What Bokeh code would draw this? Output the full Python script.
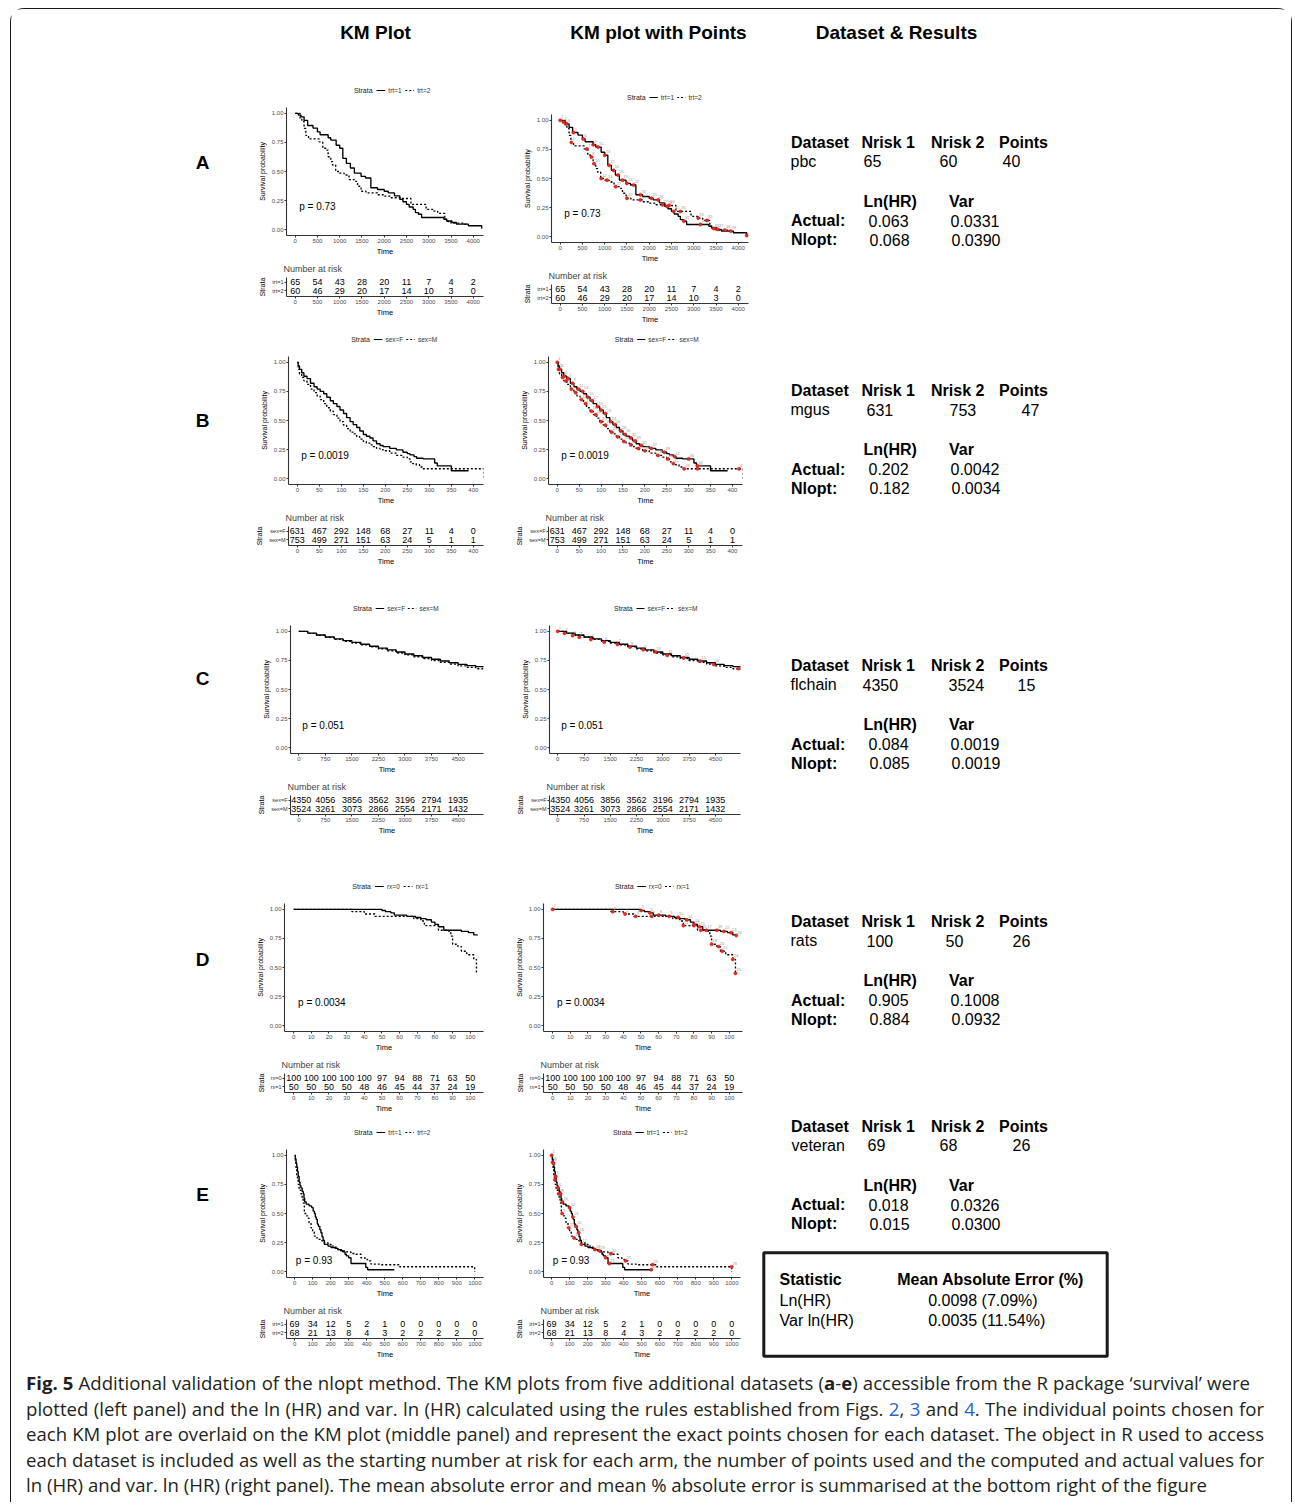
from bokeh.plotting import figure
from bokeh.layouts import column, row
from bokeh.models import Range1d, FixedTicker, PrintfTickFormatter, Spacer, Div
from bokeh.core.properties import value
from bokeh.embed import file_html
from bokeh.resources import INLINE

FONT = "Liberation Sans"

# ======================= DATA =======================
# ---- A: pbc ----
A_strata = ["trt=1", "trt=2"]
A_pval = "0.73"
A_risk_times = [0, 500, 1000, 1500, 2000, 2500, 3000, 3500, 4000]
A_risk_1 = [65, 54, 43, 28, 20, 11, 7, 4, 2]
A_risk_2 = [60, 46, 29, 20, 17, 14, 10, 3, 0]
A1_t = [0, 70, 130, 200, 280, 400, 500, 560, 740, 800, 920, 1000, 1070, 1150, 1240, 1330, 1480, 1580, 1700, 1850,
        2000, 2090, 2230, 2350, 2420, 2500, 2560, 2650, 2700, 2770, 2840, 3340, 3400, 3520, 3620, 3890, 4190]
A1_s = [1.0, 0.985, 0.97, 0.94, 0.895, 0.873, 0.84, 0.816, 0.79, 0.77, 0.726, 0.70, 0.613, 0.57, 0.53, 0.486, 0.458, 0.444, 0.36, 0.345,
        0.33, 0.316, 0.29, 0.26, 0.24, 0.217, 0.195, 0.175, 0.147, 0.133, 0.105, 0.09, 0.075, 0.062, 0.048, 0.034, 0.01]
A2_t = [0, 110, 150, 200, 240, 300, 540, 620, 690, 740, 800, 840, 910, 990, 1100, 1210, 1330, 1400, 1480, 1590,
        1850, 2000, 2150, 2380, 2600, 2940, 3090, 3200, 3360, 3430, 3500, 3800, 3850]
A2_s = [1.0, 0.96, 0.93, 0.87, 0.81, 0.78, 0.754, 0.70, 0.684, 0.627, 0.585, 0.556, 0.50, 0.486, 0.47, 0.43, 0.415, 0.373, 0.33, 0.316,
        0.30, 0.288, 0.274, 0.268, 0.217, 0.175, 0.16, 0.14, 0.09, 0.07, 0.056, 0.048, 0.048]
A_pts1_t = [0, 74, 148, 296, 518, 740, 852, 1000, 1100, 1200, 1300, 1400, 1500, 1650, 1800, 2050, 2200, 2400, 2550, 2780, 3150, 3540, 4190]
A_pts1_s = [1.0, 0.985, 0.97, 0.895, 0.84, 0.79, 0.77, 0.70, 0.613, 0.57, 0.53, 0.486, 0.458, 0.444, 0.36, 0.33, 0.316, 0.26, 0.217, 0.133, 0.105, 0.062, 0.01]
A_pts2_t = [250, 600, 700, 760, 920, 1050, 1250, 1500, 1800, 2300, 2450, 2700, 3100, 3300, 3450, 3700, 3830]
A_pts2_s = [0.81, 0.754, 0.684, 0.627, 0.50, 0.486, 0.43, 0.33, 0.316, 0.274, 0.268, 0.217, 0.16, 0.14, 0.07, 0.056, 0.048]

# ---- B: mgus ----
B_strata = ["sex=F", "sex=M"]
B_pval = "0.0019"
B_risk_times = [0, 50, 100, 150, 200, 250, 300, 350, 400]
B_risk_1 = [631, 467, 292, 148, 68, 27, 11, 4, 0]
B_risk_2 = [753, 499, 271, 151, 63, 24, 5, 1, 1]
B1_t = [0, 2, 5, 10, 15, 22, 30, 38, 45, 52, 60, 67, 75, 82, 90, 97, 105, 112, 120, 127,
        135, 142, 150, 157, 165, 172, 180, 188, 195, 210, 225, 240, 250, 256, 265, 271, 286, 312, 318, 350, 389]
B1_s = [1.0, 0.97, 0.94, 0.91, 0.88, 0.86, 0.82, 0.79, 0.77, 0.75, 0.73, 0.70, 0.67, 0.645, 0.62, 0.59, 0.56, 0.525, 0.49, 0.465,
        0.44, 0.41, 0.38, 0.365, 0.35, 0.325, 0.30, 0.285, 0.276, 0.26, 0.247, 0.227, 0.215, 0.205, 0.19, 0.176, 0.17, 0.135, 0.11, 0.068, 0.068]
B2_t = [0, 2, 5, 10, 15, 22, 30, 38, 45, 52, 60, 67, 75, 82, 90, 97, 105, 112, 120, 127,
        135, 142, 150, 157, 165, 172, 180, 188, 195, 210, 225, 240, 250, 256, 262, 270, 278, 285, 424, 424]
B2_s = [1.0, 0.94, 0.90, 0.87, 0.84, 0.81, 0.77, 0.74, 0.71, 0.68, 0.645, 0.61, 0.58, 0.55, 0.52, 0.49, 0.46, 0.43, 0.40, 0.385,
        0.36, 0.34, 0.32, 0.305, 0.29, 0.275, 0.26, 0.25, 0.24, 0.22, 0.20, 0.185, 0.17, 0.145, 0.13, 0.12, 0.10, 0.085, 0.085, 0.0]
B_pts1_t = [0, 6, 16, 25, 35, 48, 58, 70, 80, 92, 100, 110, 122, 132, 145, 155, 168, 178, 192, 215, 245, 268, 300, 320]
B_pts1_s = [1.0, 0.94, 0.88, 0.86, 0.82, 0.77, 0.75, 0.70, 0.67, 0.62, 0.59, 0.56, 0.49, 0.465, 0.41, 0.38, 0.35, 0.325, 0.285, 0.26, 0.227, 0.19, 0.17, 0.11]
B_pts2_t = [3, 12, 20, 32, 42, 55, 65, 78, 88, 100, 110, 124, 138, 152, 168, 185, 200, 230, 252, 265, 290, 320, 415]
B_pts2_s = [0.94, 0.87, 0.84, 0.77, 0.74, 0.68, 0.645, 0.58, 0.55, 0.49, 0.46, 0.40, 0.36, 0.32, 0.29, 0.26, 0.24, 0.20, 0.17, 0.13, 0.085, 0.085, 0.085]

# ---- C: flchain ----
C_strata = ["sex=F", "sex=M"]
C_pval = "0.051"
C_risk_times = [0, 750, 1500, 2250, 3000, 3750, 4500]
C_risk_1 = [4350, 4056, 3856, 3562, 3196, 2794, 1935]
C_risk_2 = [3524, 3261, 3073, 2866, 2554, 2171, 1432]
C1_t = [0, 250, 500, 750, 1000, 1250, 1500, 1750, 2000, 2250, 2500, 2750, 3000, 3250, 3500, 3750, 4000, 4250, 4500, 4750, 5000, 5215]
C1_s = [1.0, 0.984, 0.968, 0.951, 0.935, 0.92, 0.905, 0.889, 0.872, 0.856, 0.84, 0.822, 0.805, 0.79, 0.775, 0.76, 0.745, 0.73, 0.716, 0.705, 0.696, 0.69]
C2_t = [0, 250, 500, 750, 1000, 1250, 1500, 1750, 2000, 2250, 2500, 2750, 3000, 3250, 3500, 3750, 4000, 4250, 4500, 4750, 5000, 5215]
C2_s = [1.0, 0.982, 0.965, 0.948, 0.931, 0.915, 0.899, 0.883, 0.866, 0.849, 0.832, 0.814, 0.797, 0.781, 0.765, 0.749, 0.733, 0.718, 0.703, 0.69, 0.678, 0.67]
C_pts1_t = [0, 190, 426, 616, 947, 1326, 1705, 2064, 2443, 2793, 3125, 3598, 4072, 4451, 5161]
C_pts1_s = [1.0, 0.983, 0.963, 0.949, 0.93, 0.907, 0.887, 0.865, 0.842, 0.823, 0.794, 0.772, 0.744, 0.716, 0.68]
C_pts2_t = []
C_pts2_s = []

# ---- D: rats ----
D_strata = ["rx=0", "rx=1"]
D_pval = "0.0034"
D_risk_times = [0, 10, 20, 30, 40, 50, 60, 70, 80, 90, 100]
D_risk_1 = [100, 100, 100, 100, 100, 97, 94, 88, 71, 63, 50]
D_risk_2 = [50, 50, 50, 50, 48, 46, 45, 44, 37, 24, 19]
D1_t = [0, 50, 52, 55, 57, 64, 69, 72, 75, 78, 80, 82, 85, 95, 99, 102, 104]
D1_s = [1.0, 0.99, 0.98, 0.97, 0.95, 0.94, 0.93, 0.92, 0.91, 0.89, 0.87, 0.85, 0.82, 0.81, 0.80, 0.78, 0.775]
D2_t = [0, 33, 40, 46, 68, 72, 74, 82, 88, 89, 90, 93, 95, 98, 102, 103.5, 104]
D2_s = [1.0, 0.98, 0.96, 0.94, 0.92, 0.90, 0.86, 0.82, 0.80, 0.77, 0.70, 0.68, 0.64, 0.61, 0.57, 0.45, 0.45]
D_pts1_t = [0, 50, 55, 60, 66, 71, 76, 80, 83, 87, 93, 97, 101, 104]
D_pts1_s = [1.0, 0.99, 0.97, 0.95, 0.94, 0.93, 0.91, 0.87, 0.85, 0.82, 0.82, 0.81, 0.80, 0.775]
D_pts2_t = [34, 41, 47, 56, 74, 80, 84, 90, 94, 96, 102, 103.5]
D_pts2_s = [0.98, 0.96, 0.94, 0.94, 0.86, 0.86, 0.82, 0.70, 0.68, 0.64, 0.57, 0.45]

# ---- E: veteran ----
E_strata = ["trt=1", "trt=2"]
E_pval = "0.93"
E_risk_times = [0, 100, 200, 300, 400, 500, 600, 700, 800, 900, 1000]
E_risk_1 = [69, 34, 12, 5, 2, 1, 0, 0, 0, 0, 0]
E_risk_2 = [68, 21, 13, 8, 4, 3, 2, 2, 2, 2, 0]
E1_t = [0, 4, 8, 12, 16, 20, 25, 30, 35, 42, 48, 52, 56, 64, 80, 95, 103, 110, 115, 120,
        126, 132, 140, 146, 152, 158, 165, 185, 202, 225, 240, 255, 267, 280, 287, 300, 313, 395, 405, 553]
E1_s = [1.0, 0.97, 0.93, 0.90, 0.86, 0.82, 0.77, 0.74, 0.72, 0.69, 0.67, 0.63, 0.60, 0.58, 0.565, 0.55, 0.52, 0.50, 0.47, 0.45,
        0.41, 0.39, 0.36, 0.335, 0.30, 0.27, 0.235, 0.22, 0.207, 0.20, 0.19, 0.18, 0.17, 0.15, 0.136, 0.12, 0.07, 0.037, 0.017, 0.017]
E2_t = [0, 4, 8, 12, 16, 20, 25, 35, 42, 48, 54, 62, 72, 80, 91, 100, 109, 120, 128, 150,
        165, 185, 202, 220, 239, 260, 276, 313, 340, 368, 390, 405, 424, 470, 582, 999, 999]
E2_s = [1.0, 0.94, 0.89, 0.83, 0.79, 0.75, 0.70, 0.67, 0.62, 0.59, 0.50, 0.48, 0.46, 0.42, 0.377, 0.34, 0.306, 0.29, 0.278, 0.265,
        0.25, 0.235, 0.22, 0.21, 0.19, 0.18, 0.17, 0.156, 0.15, 0.12, 0.105, 0.093, 0.065, 0.06, 0.042, 0.042, 0.0]
E_pts1_t = [0, 10, 22, 36, 50, 60, 100, 118, 135, 150, 165, 240, 300, 320, 553]
E_pts1_s = [1.0, 0.93, 0.82, 0.72, 0.67, 0.60, 0.55, 0.47, 0.39, 0.335, 0.235, 0.19, 0.12, 0.07, 0.017]
E_pts2_t = [6, 18, 40, 58, 95, 125, 265, 330, 410, 560, 999]
E_pts2_s = [0.94, 0.79, 0.67, 0.50, 0.377, 0.29, 0.18, 0.156, 0.093, 0.06, 0.042]

# ---- right panel values ----
DATASETS = ["pbc", "mgus", "flchain", "rats", "veteran"]
NRISK1 = [65, 631, 4350, 100, 69]
NRISK2 = [60, 753, 3524, 50, 68]
NPOINTS = [40, 47, 15, 26, 26]
ACT_LNHR = ["0.063", "0.202", "0.084", "0.905", "0.018"]
ACT_VAR = ["0.0331", "0.0042", "0.0019", "0.1008", "0.0326"]
NL_LNHR = ["0.068", "0.182", "0.085", "0.884", "0.015"]
NL_VAR = ["0.0390", "0.0034", "0.0019", "0.0932", "0.0300"]
STAT_NAMES = ["Ln(HR)", "Var ln(HR)"]
STAT_MAE = ["0.0098 (7.09%)", "0.0035 (11.54%)"]
PANEL_LETTERS = ["A", "B", "C", "D", "E"]
COL_TITLES = ["KM Plot", "KM plot with Points", "Dataset & Results"]

# ======================= LAYOUT CONSTANTS =======================
X0 = 11          # page x of container inner left
Y0 = 10          # page y of container inner top
ROW_TOP = [80, 328, 597, 875, 1120]
ROW_H = [248, 269, 278, 245, 248]
Y1_L = [114.3, 363.3, 632.3, 910.3, 1155.7]
Y1_M = [120.7, 363.3, 632.3, 910.3, 1155.7]
FL_L = [286, 288, 290, 284, 286]
FR_L = [483, 483, 483, 483, 483]
FL_M = [551, 548, 549, 543, 543]
FR_M = [748, 742, 740, 742, 740]
LEFT_FIG_X, LEFT_W = 250, 250
MID_FIG_X, MID_W = 500, 260
TEXT_FIG_X = 760
TEXT_W = 1291 - TEXT_FIG_X
LETTER_W = LEFT_FIG_X - X0
XR = {"A": (-195, 4230), "B": (-20, 423), "C": (-235, 5218), "D": (-5.2, 107.5), "E": (-45, 1048)}
PPOS = {"A": (90, 0.2), "B": (9, 0.196), "C": (100, 0.194), "D": (2.5, 0.198), "E": (7, 0.1)}
LETTER_Y = [83, 93, 82, 85, 75]
RT_Y = [62.5, 63, 69, 47, 6.7]
VX = [(790, 863, 939, 1002), (790, 866, 949, 1021), (790, 862, 948, 1017), (790, 866, 945, 1012), (791, 867, 939, 1012)]

G = globals()
DATA = {}
for k in "ABCDE":
    DATA[k] = dict(
        strata=G[k + "_strata"], pval=G[k + "_pval"], times=G[k + "_risk_times"],
        r1=G[k + "_risk_1"], r2=G[k + "_risk_2"],
        t1=G[k + "1_t"], s1=G[k + "1_s"], t2=G[k + "2_t"], s2=G[k + "2_s"],
        p1t=G[k + "_pts1_t"], p1s=G[k + "_pts1_s"], p2t=G[k + "_pts2_t"], p2s=G[k + "_pts2_s"],
        xr=Range1d(*XR[k]), xr_vals=XR[k],
    )

CW = {'S': 0.667, 't': 0.278, 'r': 0.333, 'a': 0.556, '=': 0.584, 's': 0.5, 'e': 0.556, 'x': 0.5,
      'F': 0.611, 'M': 0.833, '0': 0.556, '1': 0.556, '2': 0.556}


def tw(s, size):
    return sum(CW.get(c, 0.556) for c in s) * size * 1.1


def blank(w, h, yflip=True):
    p = figure(width=w, height=h, x_range=Range1d(0, w),
               y_range=Range1d(h, 0) if yflip else Range1d(0, h),
               x_axis_type=None, y_axis_type=None, output_backend="svg",
               toolbar_location=None, min_border=0)
    p.outline_line_color = None
    p.grid.visible = False
    return p


def put_text(p, xs, ys, texts, size, bold=False, align="left", color="black", font=FONT):
    p.text(x=xs, y=ys, text=texts, text_font=value(font), text_font_size=size,
           text_font_style="bold" if bold else "normal", text_align=align,
           text_baseline="middle", text_color=color)


def style_axes(p, xlabel, ylabel):
    for ax in (p.xaxis[0], p.yaxis[0]):
        ax.axis_line_color = "#333333"
        ax.axis_line_width = 1.1
        ax.major_tick_line_color = "#333333"
        ax.major_tick_out = 2
        ax.major_tick_in = 0
        ax.minor_tick_line_color = None
        ax.major_label_text_font = FONT
        ax.major_label_text_font_size = "6px"
        ax.major_label_text_color = "#4d4d4d"
        ax.major_label_standoff = 1
        ax.axis_label_text_font = FONT
        ax.axis_label_text_font_size = "7.5px"
        ax.axis_label_text_font_style = "normal"
        ax.axis_label_text_color = "black"
        ax.axis_label_standoff = 1
    p.xaxis[0].axis_label = xlabel
    p.yaxis[0].axis_label = ylabel
    p.yaxis[0].axis_label_standoff = 3
    p.grid.visible = False
    p.outline_line_color = None


def km_block(key, fig_x, W, FL, FR, with_points, spacer_h):
    d = DATA[key]
    mbl = int(round(FL - fig_x))
    mbr = int(round(fig_x + W - FR))
    frame_w = W - mbl - mbr
    x_lo, x_hi = d["xr_vals"]
    # legend strip (ggplot-style "Strata  — lab1  --- lab2")
    leg = blank(W, 14, yflip=False)
    cx = (FL + FR) / 2.0 - fig_x
    sw = tw("Strata", 7)
    l1 = tw(d["strata"][0], 6.5)
    l2 = tw(d["strata"][1], 6.5)
    total = sw + 5 + 11 + 4 + l1 + 7 + 11 + 4 + l2
    anchor = cx - total / 2.0 + sw
    put_text(leg, [anchor], [7], ["Strata"], "7px", color="#222222", align="right")
    s1a = anchor + 5
    leg.segment(x0=[s1a], y0=[7], x1=[s1a + 11], y1=[7], line_color="black", line_width=1.2)
    put_text(leg, [s1a + 15], [7], [d["strata"][0]], "6.5px", color="#333333")
    s2a = s1a + 15 + l1 + 7
    leg.segment(x0=[s2a], y0=[7], x1=[s2a + 11], y1=[7], line_color="black", line_width=1.2, line_dash="2 2")
    put_text(leg, [s2a + 15], [7], [d["strata"][1]], "6.5px", color="#333333")

    # KM plot
    km = figure(width=W, height=161, x_range=d["xr"], y_range=Range1d(-0.05, 1.05),
                output_backend="svg", toolbar_location=None,
                min_border_left=mbl, min_border_right=mbr, min_border_top=10, min_border_bottom=21)
    km.step(d["t1"], d["s1"], mode="after", line_color="black", line_width=1.35)
    km.step(d["t2"], d["s2"], mode="after", line_color="black", line_width=1.35, line_dash="2 2")
    if with_points:
        pts = sorted(zip(d["p1t"] + d["p2t"], d["p1s"] + d["p2s"]))
        pt = [a for a, b in pts]
        ps = [b for a, b in pts]
        km.text(x=pt, y=ps, text=[str(i + 1) for i in range(len(pt))], text_font=value(FONT),
                text_font_size="4px", text_color="#9a9a9a", text_align="left",
                text_baseline="bottom", x_offset=1, y_offset=-2)
        km.scatter(pt, ps, size=3.2, fill_color="#ee2a1e", line_color="#c01010", line_width=0.5)
    px, py = PPOS[key]
    km.text(x=[px], y=[py], text=["p = " + d["pval"]], text_font=value(FONT), text_font_size="10px",
            text_align="left", text_baseline="middle", text_color="black")
    km.xaxis.ticker = FixedTicker(ticks=d["times"])
    km.yaxis.ticker = FixedTicker(ticks=[0, 0.25, 0.5, 0.75, 1.0])
    km.yaxis.formatter = PrintfTickFormatter(format="%.2f")
    style_axes(km, "Time", "Survival probability")
    km.yaxis.axis_label_text_font_size = "7px"

    # risk table
    rk = figure(width=W, height=61, x_range=d["xr"], y_range=Range1d(-0.65, 1.55),
                title="Number at risk", output_backend="svg", toolbar_location=None,
                min_border_left=mbl, min_border_right=mbr, min_border_top=18, min_border_bottom=21)
    fs = 9
    t0_px = (d["times"][0] - x_lo) * frame_w / (x_hi - x_lo)
    for yv, vals in ((1, d["r1"]), (0, d["r2"])):
        labels = [str(v) for v in vals]
        # first column: nudge right just enough not to be clipped by the frame
        half = len(labels[0]) * 0.556 * fs / 2.0
        off = max(0.0, half - t0_px + 0.8)
        rk.text(x=d["times"][:1], y=[yv], text=labels[:1], text_font=value(FONT), x_offset=off,
                text_font_size="%dpx" % fs, text_align="center", text_baseline="middle", text_color="black")
        rk.text(x=d["times"][1:], y=[yv] * (len(vals) - 1), text=labels[1:], text_font=value(FONT),
                text_font_size="%dpx" % fs, text_align="center", text_baseline="middle", text_color="black")
    rk.xaxis.ticker = FixedTicker(ticks=d["times"])
    rk.yaxis.ticker = FixedTicker(ticks=[0, 1])
    rk.yaxis.major_label_overrides = {0: d["strata"][1], 1: d["strata"][0]}
    style_axes(rk, "Time", "Strata")
    rk.yaxis.axis_label_text_font_size = "7px"
    rk.yaxis.major_label_text_color = "#333333"
    rk.yaxis.major_label_text_font_size = "5.5px"
    rk.title.text_font = FONT
    rk.title.text_font_size = "9px"
    rk.title.text_font_style = "normal"
    rk.title.align = "left"
    rk.title.offset = -3
    rk.title.standoff = 7

    return column(Spacer(width=W, height=max(1, spacer_h)), leg, km, rk)


# ======================= BUILD =======================
children = []

hdr = blank(1280, ROW_TOP[0] - Y0)
put_text(hdr, [375 - X0, 658 - X0, 896 - X0], [33 - Y0] * 3, COL_TITLES, "19px", bold=True, align="center")
children.append(hdr)

for i, key in enumerate("ABCDE"):
    rt, rh = ROW_TOP[i], ROW_H[i]
    letter = blank(LETTER_W, rh)
    put_text(letter, [202 - X0], [LETTER_Y[i]], [PANEL_LETTERS[i]], "19px", bold=True, align="center")

    lb = km_block(key, LEFT_FIG_X, LEFT_W, FL_L[i], FR_L[i], False, int(round(Y1_L[i] - 30 - rt)))
    mb = km_block(key, MID_FIG_X, MID_W, FL_M[i], FR_M[i], True, int(round(Y1_M[i] - 30 - rt)))

    tf = blank(TEXT_W, rh)
    h = RT_Y[i]
    vx = [v - TEXT_FIG_X for v in VX[i]]
    bx = lambda px: px - TEXT_FIG_X
    put_text(tf, [bx(790.5), bx(861), bx(930.5), bx(998.5)], [h] * 4,
             ["Dataset", "Nrisk 1", "Nrisk 2", "Points"], "16px", bold=True)
    put_text(tf, vx, [h + 19] * 4,
             [DATASETS[i], str(NRISK1[i]), str(NRISK2[i]), str(NPOINTS[i])], "16px")
    put_text(tf, [bx(863), bx(948.5)], [h + 59] * 2, ["Ln(HR)", "Var"], "16px", bold=True)
    put_text(tf, [bx(790.5), bx(790.5)], [h + 78.5, h + 97.5], ["Actual:", "Nlopt:"], "16px", bold=True)
    put_text(tf, [bx(868), bx(950), bx(869), bx(951)], [h + 78.5, h + 78.5, h + 97.5, h + 97.5],
             [ACT_LNHR[i], ACT_VAR[i], NL_LNHR[i], NL_VAR[i]], "16px")
    if key == "E":
        tf.quad(left=[bx(763.3)], right=[bx(1106.7)], top=[1253.3 - rt], bottom=[1356.7 - rt],
                fill_color=None, line_color="#1a1a1a", line_width=3)
        put_text(tf, [bx(779), bx(896.7)], [1280 - rt] * 2, ["Statistic", "Mean Absolute Error (%)"], "16px", bold=True)
        put_text(tf, [bx(779), bx(779)], [1300.7 - rt, 1320.7 - rt], STAT_NAMES, "16px")
        put_text(tf, [bx(927.7), bx(927.7)], [1300.7 - rt, 1320.7 - rt], STAT_MAE, "16px")

    children.append(row(letter, lb, mb, tf))

BLUE = '<span style="color:#2a62c9">%s</span>'
lines = [
    '<b>Fig. 5</b> Additional validation of the nlopt method. The KM plots from five additional datasets (<b>a</b>-<b>e</b>) accessible from the R package \u2018survival\u2019 were',
    'plotted (left panel) and the ln (HR) and var. ln (HR) calculated using the rules established from Figs. ' + BLUE % "2" + ', ' + BLUE % "3" + ' and ' + BLUE % "4" + '. The individual points chosen for',
    'each KM plot are overlaid on the KM plot (middle panel) and represent the exact points chosen for each dataset. The object in R used to access',
    'each dataset is included as well as the starting number at risk for each arm, the number of points used and the computed and actual values for',
    'ln (HR) and var. ln (HR) (right panel). The mean absolute error and mean % absolute error is summarised at the bottom right of the figure',
]
widths = [1224, 1238, 1238, 1238, None]
html = ""
for ln, w in zip(lines, widths):
    if w:
        html += '<div style="width:%dpx;text-align:justify;text-align-last:justify;white-space:nowrap">%s</div>' % (w, ln)
    else:
        html += '<div style="white-space:nowrap">%s</div>' % ln
cap = Div(text=html, width=1280, height=1503 - (ROW_TOP[-1] + ROW_H[-1]), margin=0,
          styles={"font-family": "'Open Sans', sans-serif", "font-size": "18.6px", "line-height": "25.5px",
                  "color": "#231f20", "padding-left": "15px", "padding-top": "3px", "box-sizing": "border-box"})
children.append(cap)

page = column(*children, margin=(8, 0, 0, 10),
              styles={"border": "1.5px solid #1a1a1a", "border-bottom": "none",
                      "border-radius": "14px 14px 0 0"})

open("out.html", "w").write(file_html(page, INLINE))
